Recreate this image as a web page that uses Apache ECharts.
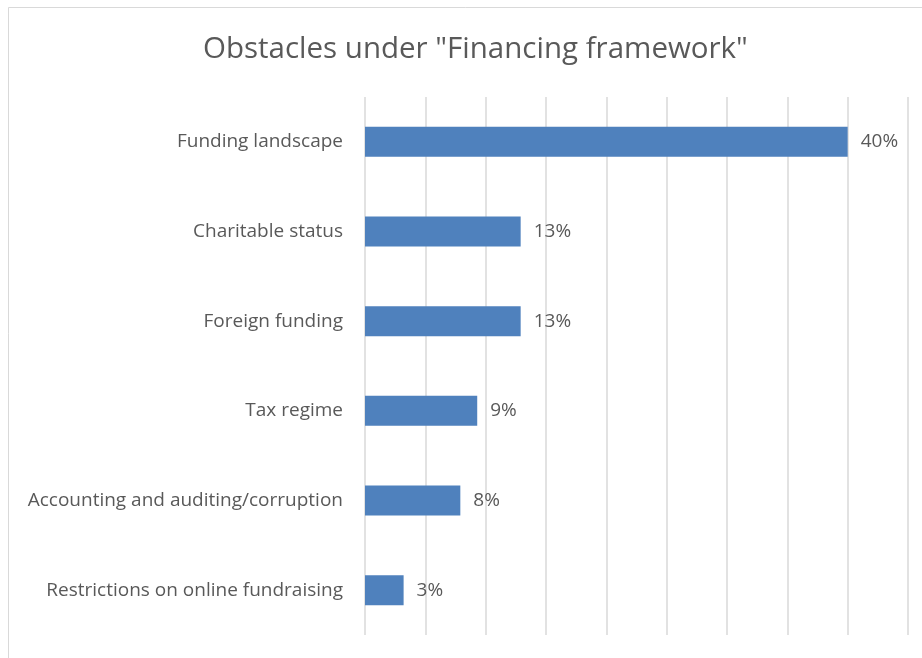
<!DOCTYPE html>
<html><head><meta charset="utf-8">
<script src="https://cdn.jsdelivr.net/npm/echarts@6/dist/echarts.min.js"></script>
<style>html,body{margin:0;padding:0;background:#fff}#c{width:922px;height:658px}</style>
</head><body><div id="c"></div>
<script>
var categories = ["Funding landscape","Charitable status","Foreign funding","Tax regime","Accounting and auditing/corruption","Restrictions on online fundraising"];
var values = [40, 12.9, 12.9, 9.3, 7.9, 3.2];
var axisMin = 0, axisMax = 45, axisStep = 5;

var chart = echarts.init(document.getElementById('c'));
var font = '"Open Sans", "Noto Sans", sans-serif';
chart.setOption({
  animation: false,
  backgroundColor: '#fff',
  title: {
    text: 'Obstacles under "Financing framework"',
    left: 198, top: 30,
    textStyle: { fontFamily: font, fontSize: 29.5, fontWeight: 'normal', color: '#595959' }
  },
  graphic: [{
    type: 'polyline', silent: true,
    shape: { points: [[8.5, 700], [8.5, 7.5], [1000, 7.5]] },
    style: { stroke: '#d9d9d9', lineWidth: 1, fill: null }
  }],
  grid: { left: 365, right: 14, top: 97, bottom: 23, containLabel: false },
  xAxis: {
    type: 'value', min: axisMin, max: axisMax, interval: axisStep,
    axisLabel: { show: false }, axisTick: { show: false }, axisLine: { show: false },
    splitLine: { show: true, lineStyle: { color: '#d9d9d9', width: 1.5 } }
  },
  yAxis: {
    type: 'category', data: categories, inverse: true,
    axisLine: { show: false }, axisTick: { show: false },
    axisLabel: { margin: 22, fontFamily: font, fontSize: 19, color: '#595959' }
  },
  series: [{
    type: 'bar', data: values, barWidth: 30,
    itemStyle: { color: '#4f81bd' },
    label: {
      show: true, position: 'right', distance: 13,
      fontFamily: font, fontSize: 19, color: '#595959',
      formatter: function (p) { return Math.round(p.value) + '%'; }
    }
  }]
});
</script></body></html>
